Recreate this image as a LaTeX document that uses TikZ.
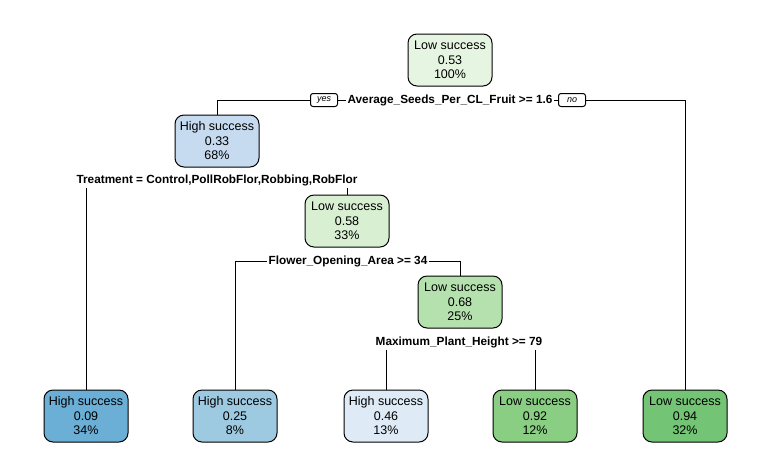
\documentclass[tikz,border=0pt]{standalone}
\usepackage{fontspec}
\setmainfont{Liberation Sans}
\usetikzlibrary{calc}
\definecolor{gnRoot}{HTML}{E6F5E1}
\definecolor{gnMid}{HTML}{D8EFD2}
\definecolor{gnNode}{HTML}{B5E1AE}
\definecolor{gnLeafA}{HTML}{8ACE84}
\definecolor{gnLeafB}{HTML}{74C476}
\definecolor{buNode}{HTML}{C6DBEF}
\definecolor{buLeafA}{HTML}{6BAED6}
\definecolor{buLeafB}{HTML}{9ECAE1}
\definecolor{buLeafC}{HTML}{DEEBF7}
\tikzset{
	box/.style={draw=black, line width=1pt, rounded corners=9pt, minimum width=84pt, minimum height=52pt, align=center, inner sep=2pt, font=\fontsize{12.5}{14.5}\selectfont},
	split/.style={font=\bfseries\fontsize{11.8}{14}\selectfont, inner sep=1.5pt},
	tag/.style={draw=black, line width=1pt, rounded corners=2.5pt, font=\itshape\fontsize{9}{10}\selectfont, inner sep=1.5pt, minimum width=27pt, minimum height=13pt}
}

\begin{document}
\begin{tikzpicture}[x=1pt, y=-1pt, line width=1pt]
			%%%%% START %%%%%
			
			\useasboundingbox (0, 0) rectangle (770, 475);
			
			% inner nodes
			\node[box, fill=gnRoot] (root) at (450, 60) {Low success\\0.53\\100\%};
			\node[box, fill=buNode] (n2) at (217, 141) {High success\\0.33\\68\%};
			\node[box, fill=gnMid] (n3) at (347, 221) {Low success\\0.58\\33\%};
			\node[box, fill=gnNode] (n4) at (460, 302) {Low success\\0.68\\25\%};
			
			% leaves
			\node[box, fill=buLeafA] (l1) at (86, 416) {High success\\0.09\\34\%};
			\node[box, fill=buLeafB] (l2) at (235, 416) {High success\\0.25\\8\%};
			\node[box, fill=buLeafC] (l3) at (386, 416) {High success\\0.46\\13\%};
			\node[box, fill=gnLeafA] (l4) at (535, 416) {Low success\\0.92\\12\%};
			\node[box, fill=gnLeafB] (l5) at (685, 416) {Low success\\0.94\\32\%};
			
			% split labels
			\node[split] (s1) at (450, 100) {Average\_Seeds\_Per\_CL\_Fruit >= 1.6};
			\node[tag] (yes) at (324, 100) {yes};
			\node[tag] (no) at (572, 100) {no};
			\node[split] (s2) at (217, 180) {Treatment = Control,PollRobFlor,Robbing,RobFlor};
			\node[split] (s3) at (348, 261) {Flower\_Opening\_Area >= 34};
			\node[split] (s4) at (459, 342) {Maximum\_Plant\_Height >= 79};
			
			% branches
			\draw (s1.west) -- (yes.east);
			\draw (yes.west) -| (n2.north);
			\draw (s1.east) -- (no.west);
			\draw (no.east) -| (l5.north);
			
			\draw (s2.south -| l1.north) -- (l1.north);
			\draw (s2.south -| n3.north) -- (n3.north);
			
			\draw (s3.west) -| (l2.north);
			\draw (s3.east) -| (n4.north);
			
			\draw (s4.south -| l3.north) -- (l3.north);
			\draw (s4.south -| l4.north) -- (l4.north);
			
			%%%%% END %%%%%
		\end{tikzpicture}
\end{document}
